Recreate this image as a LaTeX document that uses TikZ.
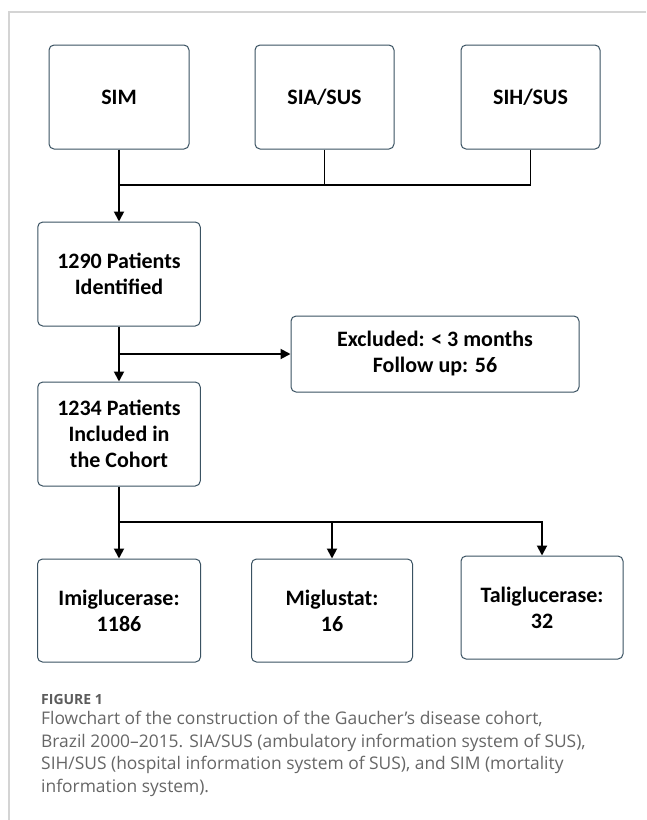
\documentclass[tikz,border=0pt]{standalone}
\usepackage{fontspec}
\setmainfont{Carlito}
\newfontfamily\capfont{Open Sans}
\usetikzlibrary{arrows.meta}
\definecolor{boxline}{HTML}{3A5262}
\definecolor{framegray}{HTML}{D4D4D4}
\definecolor{capgray}{HTML}{666666}
\tikzset{
  flowbox/.style={draw=boxline, line width=1pt, rounded corners=5pt, fill=white,
    align=center, inner sep=0pt, font=\fontsize{22}{26}\selectfont\bfseries},
  conn/.style={line width=1.9pt, black},
  arr/.style={conn, -{Triangle[length=10pt,width=10pt]}},
  capline/.style={anchor=base west, inner sep=0pt, text=capgray,
    font=\capfont\fontsize{17.4}{22.5}\selectfont},
  frameline/.style={draw=framegray, line width=1.4pt}
}
\begin{document}
\begin{tikzpicture}[x=1pt,y=-1pt]
\useasboundingbox (0,0) rectangle (646,820);
\fill[white] (0,0) rectangle (646,820);
% frame
\coordinate (fc) at (9,12);
\draw[frameline] (646,12) -- (fc) -- (9,820);
% top boxes
\node[flowbox, minimum width=140pt, minimum height=104pt] (sim) at (119,97) {SIM};
\node[flowbox, minimum width=139pt, minimum height=104pt] (sia) at (324.5,97) {SIA/SUS};
\node[flowbox, minimum width=139pt, minimum height=104pt] (sih) at (530.5,97) {SIH/SUS};
% middle
\node[flowbox, minimum width=162.5pt, minimum height=104pt] (p1290) at (119,274) {1290 Patients\\Identified};
\node[flowbox, minimum width=288pt, minimum height=76pt] (excl) at (435,354) {Excluded: {<} 3 months\\Follow up: 56};
\node[flowbox, minimum width=162.5pt, minimum height=104pt] (p1234) at (119,434) {1234 Patients\\Included in\\the Cohort};
% bottom
\node[flowbox, minimum width=163pt, minimum height=103pt] (imi) at (119,610.5) {Imiglucerase:\\1186};
\node[flowbox, minimum width=161pt, minimum height=103pt] (mig) at (332,610.5) {Miglustat:\\16};
\node[flowbox, minimum width=162pt, minimum height=103pt] (tal) at (542,607.5) {Taliglucerase:\\32};
% connectors
\coordinate (bus1) at (119,185);
\draw[conn] (sim.south) -- (bus1);
\draw[conn] (sia.south) |- (bus1);
\draw[conn] (sih.south) |- (bus1);
\draw[arr] (bus1) -- (p1290.north);
\coordinate (br) at (119,354);
\draw[arr] (p1290.south) -- (p1234.north);
\draw[arr] (br) -- (excl.west);
\coordinate (bus2) at (119,522);
\draw[conn] (p1234.south) -- (bus2);
\draw[arr] (bus2) -- (imi.north);
\draw[arr] (bus2) -| (mig.north);
\draw[arr] (bus2) -| (tal.north);
% caption
\node[capline, text=capgray!90!black, font=\capfont\fontsize{14}{16}\selectfont\bfseries] (fig) at (41,704) {FIGURE 1};
\node[capline] (c1) at (41,724.5) {Flowchart of the construction of the Gaucher’s disease cohort,};
\node[capline] (c2) at (41,747) {Brazil 2000–2015. SIA/SUS (ambulatory information system of SUS),};
\node[capline] (c3) at (41,769.5) {SIH/SUS (hospital information system of SUS), and SIM (mortality};
\node[capline] (c4) at (41,792) {information system).};
\end{tikzpicture}
\end{document}
